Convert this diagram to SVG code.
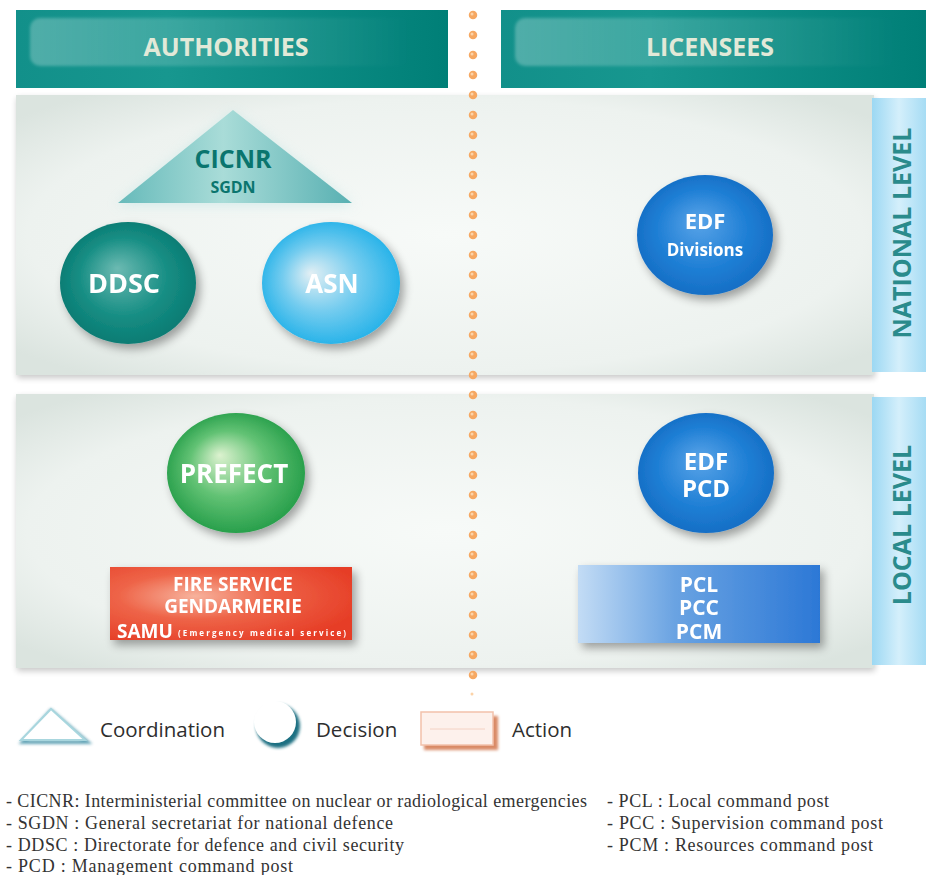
<svg xmlns="http://www.w3.org/2000/svg" width="926" height="875" viewBox="0 0 926 875">
  <defs>
    <style>
      .hdr-text { font-family: "Open Sans", "Liberation Sans", sans-serif; font-weight: bold; font-size: 25px; fill: #e2e9d8; text-anchor: middle; }
      .lvl-text { font-family: "Open Sans", "Liberation Sans", sans-serif; font-weight: bold; font-size: 25px; fill: #2a8b8c; text-anchor: middle; }
      .node-text { font-family: "Open Sans", "Liberation Sans", sans-serif; font-weight: bold; fill: #ffffff; text-anchor: middle; }
      .node-text-left { font-family: "Open Sans", "Liberation Sans", sans-serif; font-weight: bold; fill: #ffffff; text-anchor: start; }
      .tri-text { font-family: "Open Sans", "Liberation Sans", sans-serif; font-weight: bold; fill: #0a756e; text-anchor: middle; }
      .legend-text { font-family: "Open Sans", "Liberation Sans", sans-serif; font-size: 20.5px; fill: #2e2e2e; }
      .note { font-family: "Liberation Serif", "DejaVu Serif", serif; font-size: 18px; fill: #333333; }
    </style>
    <linearGradient id="hdrGrad" x1="0" y1="0" x2="1" y2="0">
      <stop offset="0" stop-color="#12908a"/>
      <stop offset="0.35" stop-color="#17978f"/>
      <stop offset="1" stop-color="#007f77"/>
    </linearGradient>
    <linearGradient id="hdrShine" x1="0" y1="0" x2="1" y2="0">
      <stop offset="0" stop-color="#ffffff" stop-opacity="0.26"/>
      <stop offset="0.5" stop-color="#ffffff" stop-opacity="0.12"/>
      <stop offset="1" stop-color="#ffffff" stop-opacity="0"/>
    </linearGradient>
    <radialGradient id="panelGrad" cx="0.5" cy="0.5" r="0.65">
      <stop offset="0" stop-color="#f7faf8"/>
      <stop offset="0.75" stop-color="#edf2ef"/>
      <stop offset="1" stop-color="#dbe4df"/>
    </radialGradient>
    <linearGradient id="stripGrad" x1="0" y1="0" x2="1" y2="0">
      <stop offset="0" stop-color="#9cd8f3"/>
      <stop offset="0.5" stop-color="#d4effb"/>
      <stop offset="1" stop-color="#a6dcf4"/>
    </linearGradient>
    <linearGradient id="triGrad" x1="0" y1="0" x2="1" y2="0">
      <stop offset="0" stop-color="#66baba"/>
      <stop offset="0.45" stop-color="#a9dcd8"/>
      <stop offset="1" stop-color="#58b0b2"/>
    </linearGradient>
    <radialGradient id="ddscGrad" cx="0.5" cy="0.5" r="0.55" fx="0.42" fy="0.38">
      <stop offset="0" stop-color="#6cbab2"/>
      <stop offset="0.6" stop-color="#158d83"/>
      <stop offset="1" stop-color="#0a7870"/>
    </radialGradient>
    <radialGradient id="asnGrad" cx="0.5" cy="0.5" r="0.55" fx="0.35" fy="0.42">
      <stop offset="0" stop-color="#e2eff4"/>
      <stop offset="0.5" stop-color="#74ccef"/>
      <stop offset="1" stop-color="#1cafe8"/>
    </radialGradient>
    <radialGradient id="edfGrad" cx="0.5" cy="0.5" r="0.55" fx="0.45" fy="0.38">
      <stop offset="0" stop-color="#5aa4e8"/>
      <stop offset="0.6" stop-color="#1f7fd5"/>
      <stop offset="1" stop-color="#146bc2"/>
    </radialGradient>
    <radialGradient id="prefGrad" cx="0.5" cy="0.5" r="0.55" fx="0.38" fy="0.35">
      <stop offset="0" stop-color="#dcf2cf"/>
      <stop offset="0.5" stop-color="#62c274"/>
      <stop offset="1" stop-color="#1f9a45"/>
    </radialGradient>
    <radialGradient id="redGrad" cx="0.35" cy="0.4" r="0.7">
      <stop offset="0" stop-color="#f7b29c"/>
      <stop offset="0.45" stop-color="#ee6448"/>
      <stop offset="1" stop-color="#e63e27"/>
    </radialGradient>
    <linearGradient id="blueGrad" x1="0" y1="0" x2="1" y2="0">
      <stop offset="0" stop-color="#c3dcf5"/>
      <stop offset="0.4" stop-color="#6aa3e2"/>
      <stop offset="1" stop-color="#2c78d6"/>
    </linearGradient>
    <filter id="shadow" x="-30%" y="-30%" width="160%" height="160%">
      <feGaussianBlur in="SourceAlpha" stdDeviation="5"/>
      <feOffset dx="4" dy="5"/>
      <feComponentTransfer><feFuncA type="linear" slope="0.35"/></feComponentTransfer>
      <feMerge><feMergeNode/><feMergeNode in="SourceGraphic"/></feMerge>
    </filter>
    <filter id="panelShadow" x="-5%" y="-10%" width="110%" height="120%">
      <feGaussianBlur in="SourceAlpha" stdDeviation="3"/>
      <feOffset dx="1" dy="3"/>
      <feComponentTransfer><feFuncA type="linear" slope="0.22"/></feComponentTransfer>
      <feMerge><feMergeNode/><feMergeNode in="SourceGraphic"/></feMerge>
    </filter>
    <filter id="soft" x="-20%" y="-20%" width="140%" height="140%">
      <feGaussianBlur stdDeviation="6"/>
    </filter>
    <filter id="smudge" x="-5%" y="-20%" width="110%" height="140%">
      <feGaussianBlur stdDeviation="0.6"/>
    </filter>
    <filter id="edgeBlur" x="-20%" y="-40%" width="140%" height="180%">
      <feGaussianBlur stdDeviation="1.8"/>
    </filter>
  </defs>

  <rect width="926" height="875" fill="#ffffff"/>

  <!-- column headers -->
  <g id="header-authorities">
    <rect x="16" y="10" width="432" height="78" fill="url(#hdrGrad)"/>
    <rect x="30" y="18" width="380" height="48" rx="10" fill="url(#hdrShine)" filter="url(#edgeBlur)"/>
    <text class="hdr-text" x="226" y="56">AUTHORITIES</text>
  </g>
  <g id="header-licensees">
    <rect x="501" y="10" width="425" height="78" fill="url(#hdrGrad)"/>
    <rect x="515" y="18" width="380" height="48" rx="10" fill="url(#hdrShine)" filter="url(#edgeBlur)"/>
    <text class="hdr-text" x="710" y="56">LICENSEES</text>
  </g>

  <!-- level bands -->
  <g id="band-national">
    <rect x="16" y="95" width="858" height="280" fill="url(#panelGrad)" filter="url(#panelShadow)"/>
    <rect x="872" y="98" width="54" height="274" fill="url(#stripGrad)"/>
    <text class="lvl-text" transform="translate(911,233) rotate(-90)">NATIONAL LEVEL</text>
  </g>
  <g id="band-local">
    <rect x="16" y="394" width="858" height="274" fill="url(#panelGrad)" filter="url(#panelShadow)"/>
    <rect x="872" y="397" width="54" height="268" fill="url(#stripGrad)"/>
    <text class="lvl-text" transform="translate(911,525) rotate(-90)">LOCAL LEVEL</text>
  </g>

  <!-- dotted divider between the two columns -->
  <g id="divider">
    <line x1="473" y1="15" x2="473" y2="695" stroke="#f6a862" stroke-width="8.5" stroke-linecap="round" stroke-dasharray="0 20"/>
    <line x1="472" y1="14" x2="472" y2="695" stroke="#fcd3a8" stroke-width="3" stroke-linecap="round" stroke-dasharray="0 20"/>
  </g>

  <!-- connectors: none drawn -->
  <g id="connectors"/>

  <!-- authorities, national level -->
  <g id="node-cicnr">
    <polygon points="233,112 116,205 354,205" fill="#bfe4e4" opacity="0.6" filter="url(#soft)"/>
    <polygon points="233,110 118,203 352,203" fill="url(#triGrad)"/>
    <text class="tri-text" x="233" y="168" font-size="25">CICNR</text>
    <text class="tri-text" x="233" y="193" font-size="16">SGDN</text>
  </g>
  <g id="node-ddsc" filter="url(#shadow)">
    <ellipse cx="128" cy="283" rx="68" ry="61" fill="url(#ddscGrad)"/>
    <text class="node-text" x="124" y="293" font-size="27">DDSC</text>
  </g>
  <g id="node-asn" filter="url(#shadow)">
    <ellipse cx="331" cy="283" rx="69" ry="61" fill="url(#asnGrad)"/>
    <text class="node-text" x="332" y="293" font-size="26">ASN</text>
  </g>

  <!-- licensees, national level -->
  <g id="node-edf-divisions" filter="url(#shadow)">
    <ellipse cx="705" cy="235" rx="68" ry="60" fill="url(#edfGrad)"/>
    <text class="node-text" x="705" y="229" font-size="22">EDF</text>
    <text class="node-text" x="705" y="256" font-size="17">Divisions</text>
  </g>

  <!-- authorities, local level -->
  <g id="node-prefect" filter="url(#shadow)">
    <ellipse cx="236" cy="473" rx="69" ry="60" fill="url(#prefGrad)"/>
    <text class="node-text" x="234" y="483" font-size="26">PREFECT</text>
  </g>
  <g id="node-fire-service" filter="url(#shadow)">
    <rect x="110" y="567" width="242" height="73" fill="url(#redGrad)"/>
    <g filter="url(#smudge)">
      <text class="node-text" x="233" y="591" font-size="19">FIRE SERVICE</text>
      <text class="node-text" x="233" y="613" font-size="19">GENDARMERIE</text>
      <text class="node-text-left" x="117" y="638" font-size="19">SAMU</text>
      <text class="node-text-left" x="178" y="636" font-size="8" textLength="168">(Emergency medical service)</text>
    </g>
  </g>

  <!-- licensees, local level -->
  <g id="node-edf-pcd" filter="url(#shadow)">
    <ellipse cx="706" cy="473" rx="68" ry="60" fill="url(#edfGrad)"/>
    <text class="node-text" x="706" y="470" font-size="24">EDF</text>
    <text class="node-text" x="706" y="497" font-size="24">PCD</text>
  </g>
  <g id="node-pcl" filter="url(#shadow)">
    <rect x="578" y="565" width="242" height="78" fill="url(#blueGrad)"/>
    <text class="node-text" x="699" y="592" font-size="21" fill="#f6eef6">PCL</text>
    <text class="node-text" x="699" y="615" font-size="21" fill="#f6eef6">PCC</text>
    <text class="node-text" x="699" y="639" font-size="21" fill="#f6eef6">PCM</text>
  </g>

  <!-- legend -->
  <g id="legend">
    <polygon points="23,742 51,711 87,742" fill="none" stroke="#3f8fa6" stroke-width="4" filter="url(#edgeBlur)" opacity="0.8"/>
    <polygon points="21,740 51,709 85,740" fill="#ffffff" stroke="#a8d6de" stroke-width="2"/>
    <text class="legend-text" x="100" y="737">Coordination</text>
    <circle cx="278" cy="726" r="22" fill="#1d6f82" filter="url(#edgeBlur)"/>
    <circle cx="275" cy="722" r="21" fill="#ffffff"/>
    <text class="legend-text" x="316" y="737">Decision</text>
    <rect x="424" y="716" width="74" height="34" fill="#d98a66" filter="url(#edgeBlur)"/>
    <rect x="421" y="712" width="72" height="33" fill="#fdf1ec" stroke="#f2c1ab" stroke-width="1.5"/>
    <line x1="430" y1="729" x2="485" y2="729" stroke="#f4d2c4" stroke-width="1"/>
    <text class="legend-text" x="512" y="737">Action</text>
  </g>

  <!-- abbreviations -->
  <g id="notes">
    <text class="note" x="6" y="807" textLength="581">- CICNR: Interministerial committee on nuclear or radiological emergencies</text>
    <text class="note" x="6" y="829" textLength="387">- SGDN : General secretariat for national defence</text>
    <text class="note" x="6" y="851" textLength="398">- DDSC : Directorate for defence and civil security</text>
    <text class="note" x="6" y="872" textLength="287">- PCD : Management command post</text>
    <text class="note" x="607" y="807" textLength="222">- PCL : Local command post</text>
    <text class="note" x="607" y="829" textLength="276">- PCC : Supervision command post</text>
    <text class="note" x="607" y="851" textLength="266">- PCM : Resources command post</text>
  </g>
</svg>
